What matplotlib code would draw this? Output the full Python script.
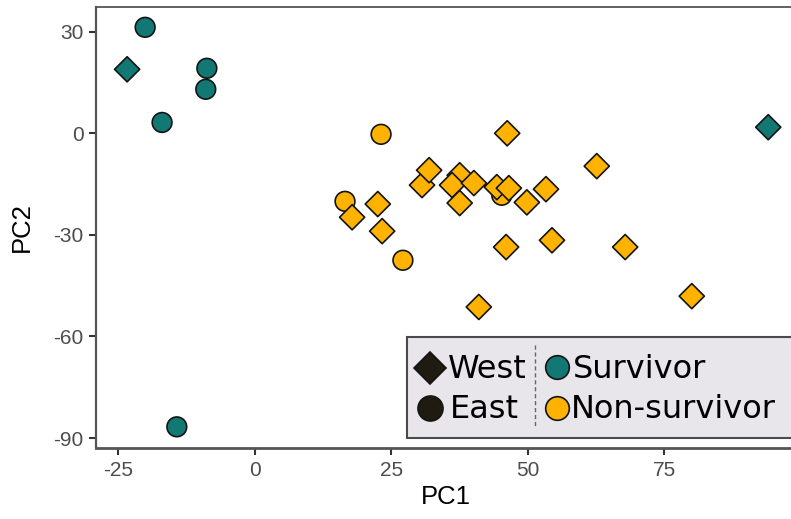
import matplotlib
matplotlib.use("Agg")
import matplotlib.pyplot as plt
from matplotlib.lines import Line2D
from matplotlib.patches import Rectangle

# ---- data ----
# East (circles)
east_pc1 = [-20.1, -8.8, -9.0, -17.0, -14.3, 23.1, 45.2, 16.5, 27.1]
east_pc2 = [31.3, 19.2, 13.0, 3.2, -86.7, -0.3, -18.3, -20.1, -37.5]
east_status = ["Survivor", "Survivor", "Survivor", "Survivor", "Survivor",
               "Non-survivor", "Non-survivor", "Non-survivor", "Non-survivor"]
# West (diamonds)
west_pc1 = [-23.4, 94.0, 37.5, 46.2, 62.6, 30.6, 31.9, 36.1, 40.1, 37.5, 44.3,
            46.5, 49.8, 53.3, 17.8, 22.5, 23.3, 46.0, 54.4, 67.8, 80.0, 41.0]
west_pc2 = [18.9, 1.8, -12.4, 0.0, -9.7, -15.3, -10.9, -15.3, -14.7, -20.6, -15.9,
            -16.2, -20.4, -16.5, -24.8, -20.9, -28.9, -33.6, -31.6, -33.6, -48.1, -51.3]
west_status = ["Survivor", "Survivor"] + ["Non-survivor"] * 20

x_ticks = [-25, 0, 25, 50, 75]
y_ticks = [30, 0, -30, -60, -90]

colors = {"Survivor": "#127873", "Non-survivor": "#FFB300"}
edge = "#141414"

W, H = 791, 519
fig = plt.figure(figsize=(W / 100, H / 100), dpi=100)

def fx(x):
    return x / W

def fy(y):
    return 1 - y / H

ax_left, ax_right, ax_top, ax_bottom = 96, 795, 7, 448
ax = fig.add_axes([fx(ax_left), fy(ax_bottom), (ax_right - ax_left) / W,
                   (ax_bottom - ax_top) / H])

ax.scatter(east_pc1, east_pc2, s=14.2 ** 2, marker="o",
           c=[colors[s] for s in east_status], edgecolors=edge, linewidths=1.2,
           zorder=3)
ax.scatter(west_pc1, west_pc2, s=12.8 ** 2, marker="D",
           c=[colors[s] for s in west_status], edgecolors=edge, linewidths=1.2,
           zorder=4)

ax.set_xlim(-29.1, 98.9)
ax.set_ylim(-92.95, 37.3)
ax.set_xticks(x_ticks)
ax.set_yticks(y_ticks)
ax.set_xticklabels([str(t) for t in x_ticks])
ax.set_yticklabels([str(t) for t in y_ticks])

for lab in ax.get_xticklabels() + ax.get_yticklabels():
    lab.set_fontfamily("Liberation Sans")
    lab.set_fontsize(15)
    lab.set_color("#4d4d4d")
ax.tick_params(axis="both", length=5, width=1.5, color="#333333", pad=4)

ax.set_xlabel("PC1", family="Liberation Sans", fontsize=18.5, color="black", labelpad=4)
ax.set_ylabel("PC2", family="Liberation Sans", fontsize=18.5, color="black", labelpad=14)

for name, sp in ax.spines.items():
    sp.set_color("#555555")
    sp.set_linewidth(1.3)
ax.spines["bottom"].set_linewidth(2.0)
ax.spines["left"].set_linewidth(1.6)

# ---- legend (drawn manually in figure pixel coordinates) ----
box = Rectangle((fx(407), fy(438)), (W + 10 - 407) / W, (438 - 337) / H,
                transform=fig.transFigure, facecolor="#E8E6EA",
                edgecolor="#4a4a4a", linewidth=1.5, zorder=10, clip_on=False)
fig.add_artist(box)

legend_font = dict(family="DejaVu Sans", fontsize=23, color="black",
                   va="center", ha="left", zorder=12)
dark = "#1f1b10"
fig.add_artist(Line2D([fx(430)], [fy(368)], marker="D", markersize=16,
                      markerfacecolor=dark, markeredgecolor=edge,
                      markeredgewidth=1.2, linestyle="none",
                      transform=fig.transFigure, zorder=12))
fig.add_artist(Line2D([fx(430)], [fy(408)], marker="o", markersize=18,
                      markerfacecolor=dark, markeredgecolor=edge,
                      markeredgewidth=1.2, linestyle="none",
                      transform=fig.transFigure, zorder=12))
fig.add_artist(Line2D([fx(557)], [fy(367)], marker="o", markersize=17,
                      markerfacecolor=colors["Survivor"], markeredgecolor=edge,
                      markeredgewidth=1.2, linestyle="none",
                      transform=fig.transFigure, zorder=12))
fig.add_artist(Line2D([fx(557)], [fy(408)], marker="o", markersize=17,
                      markerfacecolor=colors["Non-survivor"], markeredgecolor=edge,
                      markeredgewidth=1.2, linestyle="none",
                      transform=fig.transFigure, zorder=12))
fig.text(fx(448), fy(369), "West", transform=fig.transFigure, **legend_font)
fig.text(fx(450), fy(409), "East", transform=fig.transFigure, **legend_font)
fig.text(fx(573), fy(369), "Survivor", transform=fig.transFigure, **legend_font)
fig.text(fx(571), fy(409), "Non-survivor", transform=fig.transFigure, **legend_font)
fig.add_artist(Line2D([fx(535), fx(535)], [fy(345), fy(428)], color="#666666",
                      linewidth=1.0, linestyle=(0, (3, 2)),
                      transform=fig.transFigure, zorder=12))

fig.savefig("out.png", dpi=100)
